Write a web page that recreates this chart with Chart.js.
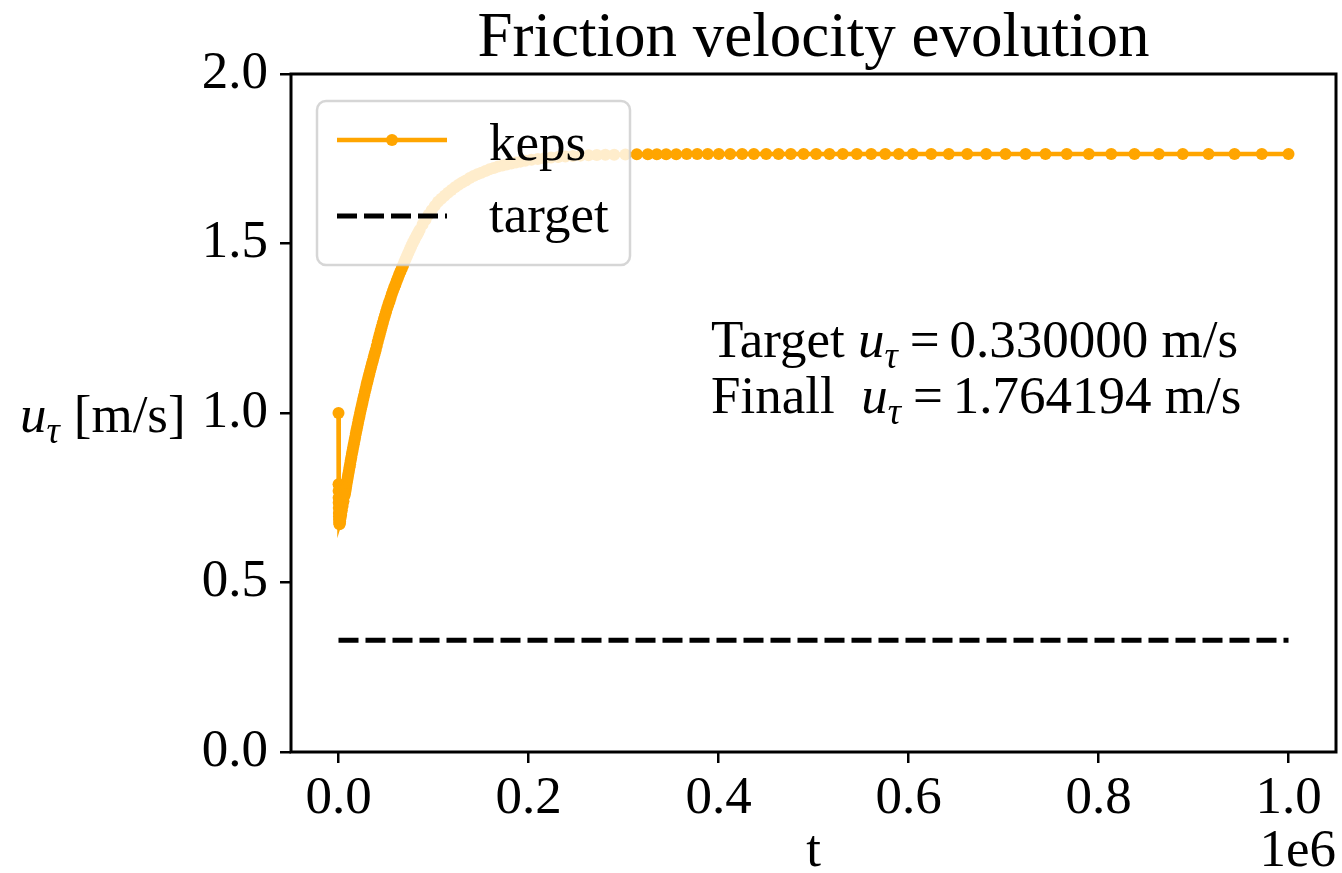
<!DOCTYPE html>
<html>
<head>
<meta charset="utf-8">
<title>Friction velocity evolution</title>
<script src="https://cdn.jsdelivr.net/npm/chart.js@4.4.0/dist/chart.umd.min.js"></script>
<style>
    html, body { margin: 0; padding: 0; background: #fff; }
    #wrap { width: 1342px; height: 873px; position: relative; }
</style>
</head>
<body>
<div id="wrap"><canvas id="myChart"></canvas></div>
<script>
// keps run: time [s] and friction velocity [m/s]
var kepsT = [
    0, 50, 100, 150, 200, 300, 400, 500, 600, 800, 1000, 1300, 1700, 2200, 2800, 3500, 4300, 5200, 6200,
    6700, 7200, 7700, 8200, 8750, 9300, 9850, 10400, 11000, 11600, 12200, 12800, 13450, 14100, 14750, 15400,
    16100, 16800, 17500, 18200, 18950, 19700, 20450, 21200, 22000, 22800, 23600, 24400, 25250, 26100, 26950,
    27800, 28700, 29600, 30500, 31400, 32350, 33300, 34250, 35200, 36200, 37200, 38200, 39200,
    40250, 41300, 42350, 43400, 44500, 45600, 46700, 47800, 48950, 50100, 51300, 52500,
    53700, 54900, 56150, 57400, 58700, 60000, 61300, 62600, 63950, 65300, 66650, 68000,
    69400, 70800, 72200, 73600, 75050, 76500, 77950, 79400, 80900, 82400, 83900, 85400,
    88500, 91600, 94800, 98100, 101400, 104800,
    108200, 111700, 115300, 118900, 122600, 126400, 130200, 134100,
    138100, 142100, 146200, 150400, 154700, 159000, 163400, 167900, 172500, 177100, 181900, 186700, 191600, 196600,
    203100, 209800, 216700, 223800, 231200, 238800, 246700, 254800, 263200, 271900, 280900, 290200, 302000,
    314000, 325600, 335100, 344900, 355500, 366600, 377600, 388700, 400300, 412300,
    424900, 437200, 450200, 463200, 476100, 489500, 502800, 516800, 530800, 545600,
    560700, 575500, 589800, 604500, 623900, 642400, 661800, 681800, 702100, 723200,
    744200, 766600, 789800, 813400, 837900, 863500, 888700, 915800, 943200, 971900,
    1000000
];
var kepsU = [
    1.0, 0.79, 0.77, 0.75, 0.735, 0.72, 0.705, 0.695, 0.685, 0.677, 0.672, 0.674, 0.68, 0.69, 0.70, 0.713, 0.726, 0.74, 0.755,
    0.761, 0.768, 0.776, 0.785, 0.794, 0.803, 0.812, 0.821, 0.830, 0.840, 0.849, 0.859, 0.869, 0.879, 0.888, 0.898,
    0.908, 0.918, 0.928, 0.939, 0.949, 0.959, 0.969, 0.980, 0.990, 1.001, 1.011, 1.021, 1.031, 1.042, 1.052,
    1.063, 1.073, 1.084, 1.094, 1.104, 1.114, 1.125, 1.135, 1.145, 1.155, 1.166, 1.176, 1.186,
    1.198, 1.210, 1.221, 1.232, 1.244, 1.255, 1.266, 1.277, 1.288, 1.299, 1.310, 1.320,
    1.330, 1.340, 1.351, 1.361, 1.371, 1.380, 1.390, 1.399, 1.409, 1.418, 1.427, 1.436,
    1.446, 1.455, 1.464, 1.473, 1.482, 1.491, 1.500, 1.508, 1.516, 1.524, 1.532, 1.540,
    1.556, 1.570, 1.585, 1.598, 1.611, 1.623,
    1.632, 1.641, 1.650, 1.658, 1.666, 1.673, 1.680, 1.686,
    1.693, 1.699, 1.704, 1.709, 1.714, 1.719, 1.723, 1.727, 1.730, 1.733, 1.736, 1.739, 1.7415, 1.744,
    1.7468, 1.7493, 1.7515, 1.7535, 1.7553, 1.7568, 1.7581, 1.7592, 1.7601, 1.7609, 1.7615, 1.7620, 1.7626,
    1.7630, 1.7632, 1.7634, 1.7635, 1.7636, 1.7637, 1.7638, 1.7638, 1.7639, 1.7639,
    1.7640, 1.7640, 1.7640, 1.7641, 1.7641, 1.7641, 1.7641, 1.7641, 1.7641, 1.7642,
    1.7642, 1.7642, 1.7642, 1.7642, 1.7642, 1.7642, 1.7642, 1.7642, 1.7642, 1.7642,
    1.76419, 1.76419, 1.76419, 1.76419, 1.76419, 1.76419, 1.76419, 1.76419, 1.76419, 1.76419,
    1.764194
];
var targetT = [0, 1000000];
var targetU = [0.33, 0.33];
var xTicks = [0, 200000, 400000, 600000, 800000, 1000000];
var yTicks = [0.0, 0.5, 1.0, 1.5, 2.0];
var seriesNames = ['keps', 'target'];
var targetValue = 0.330000;
var finalValue = 1.764194;

var ORANGE = '#ffa500';
var SERIF = '"Liberation Serif", "Times New Roman", serif';

function toPoints(xs, ys) {
    var pts = [];
    for (var i = 0; i < xs.length; i++) {
        pts.push({ x: xs[i], y: ys[i] });
    }
    return pts;
}

// draws a run of roman / italic / subscript pieces, mathtext style
function drawRuns(ctx, runs, x, y, size) {
    for (var i = 0; i < runs.length; i++) {
        var r = runs[i];
        var s = r.sub ? size * 0.7 : size;
        ctx.font = (r.it ? 'italic ' : '') + s + 'px ' + SERIF;
        ctx.fillText(r.t, x, y + (r.sub ? size * 0.2 : 0));
        x += ctx.measureText(r.t).width + (r.gap || 0);
    }
}

var paperPlugin = {
    id: 'paper',
    afterDraw: function (chart) {
        var ctx = chart.ctx;
        var a = chart.chartArea;
        ctx.save();

        // axes frame
        ctx.strokeStyle = '#000';
        ctx.lineWidth = 3;
        ctx.strokeRect(a.left, a.top, a.right - a.left, a.bottom - a.top);

        // legend box (semi transparent, over the data like matplotlib)
        var lx = a.left + 26, ly = a.top + 27, lw = 313, lh = 164, r = 9;
        ctx.beginPath();
        ctx.moveTo(lx + r, ly);
        ctx.arcTo(lx + lw, ly, lx + lw, ly + lh, r);
        ctx.arcTo(lx + lw, ly + lh, lx, ly + lh, r);
        ctx.arcTo(lx, ly + lh, lx, ly, r);
        ctx.arcTo(lx, ly, lx + lw, ly, r);
        ctx.closePath();
        ctx.fillStyle = 'rgba(255,255,255,0.8)';
        ctx.fill();
        ctx.strokeStyle = 'rgba(204,204,204,0.8)';
        ctx.lineWidth = 2.5;
        ctx.stroke();

        ctx.strokeStyle = ORANGE;
        ctx.lineWidth = 4.5;
        ctx.beginPath();
        ctx.moveTo(lx + 20, ly + 39);
        ctx.lineTo(lx + 130, ly + 39);
        ctx.stroke();
        ctx.fillStyle = ORANGE;
        ctx.beginPath();
        ctx.arc(lx + 75, ly + 39, 6, 0, Math.PI * 2);
        ctx.fill();

        ctx.strokeStyle = '#000';
        ctx.lineWidth = 5;
        ctx.setLineDash([20, 7]);
        ctx.beginPath();
        ctx.moveTo(lx + 20, ly + 115);
        ctx.lineTo(lx + 130, ly + 115);
        ctx.stroke();
        ctx.setLineDash([]);

        ctx.fillStyle = '#000';
        ctx.textBaseline = 'alphabetic';
        ctx.textAlign = 'left';
        ctx.font = '53px ' + SERIF;
        ctx.fillText(seriesNames[0], lx + 172, ly + 59);
        ctx.fillText(seriesNames[1], lx + 172, ly + 131);

        // title
        ctx.textAlign = 'center';
        ctx.font = '63px ' + SERIF;
        ctx.fillText('Friction velocity evolution', (a.left + a.right) / 2, 56);

        // x label and offset text
        ctx.font = '53px ' + SERIF;
        ctx.fillText('t', (a.left + a.right) / 2, 866);
        ctx.textAlign = 'right';
        ctx.fillText('1e6', a.right, 866);

        // y label, horizontal
        ctx.textAlign = 'left';
        drawRuns(ctx, [
            { t: 'u', it: true },
            { t: '\u03c4', it: true, sub: true, gap: 14 },
            { t: '[m/s]' }
        ], 20, 432, 53);

        // annotation
        drawRuns(ctx, [
            { t: 'Target ' },
            { t: 'u', it: true },
            { t: '\u03c4', it: true, sub: true, gap: 12 },
            { t: '=', gap: 10 },
            { t: targetValue.toFixed(6) + ' m/s' }
        ], a.left + 420, a.top + 283, 53);
        drawRuns(ctx, [
            { t: 'Finall  ' },
            { t: 'u', it: true },
            { t: '\u03c4', it: true, sub: true, gap: 12 },
            { t: '=', gap: 10 },
            { t: finalValue.toFixed(6) + ' m/s' }
        ], a.left + 420, a.top + 339, 53);

        ctx.restore();
    }
};

var tickFont = { family: SERIF, size: 53 };

var ctx = document.getElementById('myChart').getContext('2d');
var myChart = new Chart(ctx, {
    type: 'line',
    data: {
        datasets: [{
            label: seriesNames[0],
            data: toPoints(kepsT, kepsU),
            borderColor: ORANGE,
            backgroundColor: ORANGE,
            borderWidth: 4.5,
            pointRadius: 6,
            pointHoverRadius: 6,
            pointBorderWidth: 0,
            pointBackgroundColor: ORANGE,
            tension: 0,
            fill: false
        }, {
            label: seriesNames[1],
            data: toPoints(targetT, targetU),
            borderColor: '#000',
            borderWidth: 5,
            borderDash: [20, 7],
            borderCapStyle: 'butt',
            pointRadius: 0,
            tension: 0,
            fill: false
        }]
    },
    options: {
        responsive: true,
        maintainAspectRatio: false,
        animation: false,
        events: [],
        layout: { padding: { top: 74, right: 5, left: 0, bottom: 0 } },
        plugins: {
            legend: { display: false },
            tooltip: { enabled: false },
            title: { display: false }
        },
        scales: {
            x: {
                type: 'linear',
                min: -50000,
                max: 1050000,
                border: { display: false },
                grid: { drawOnChartArea: false, drawTicks: true, tickLength: 11, color: '#000', lineWidth: 2.5 },
                ticks: {
                    autoSkip: false,
                    maxRotation: 0,
                    color: '#000',
                    font: tickFont,
                    padding: 4,
                    callback: function (v) { return (v / 1e6).toFixed(1); }
                },
                afterBuildTicks: function (s) {
                    s.ticks = xTicks.map(function (v) { return { value: v }; });
                },
                afterFit: function (s) { s.height = 121; }
            },
            y: {
                type: 'linear',
                min: 0,
                max: 2,
                border: { display: false },
                grid: { drawOnChartArea: false, drawTicks: true, tickLength: 11, color: '#000', lineWidth: 2.5 },
                ticks: {
                    autoSkip: false,
                    color: '#000',
                    font: tickFont,
                    padding: 12,
                    callback: function (v) { return v.toFixed(1); }
                },
                afterBuildTicks: function (s) {
                    s.ticks = yTicks.map(function (v) { return { value: v }; });
                },
                afterFit: function (s) { s.width = 291; }
            }
        }
    },
    plugins: [paperPlugin]
});
</script>
</body>
</html>
